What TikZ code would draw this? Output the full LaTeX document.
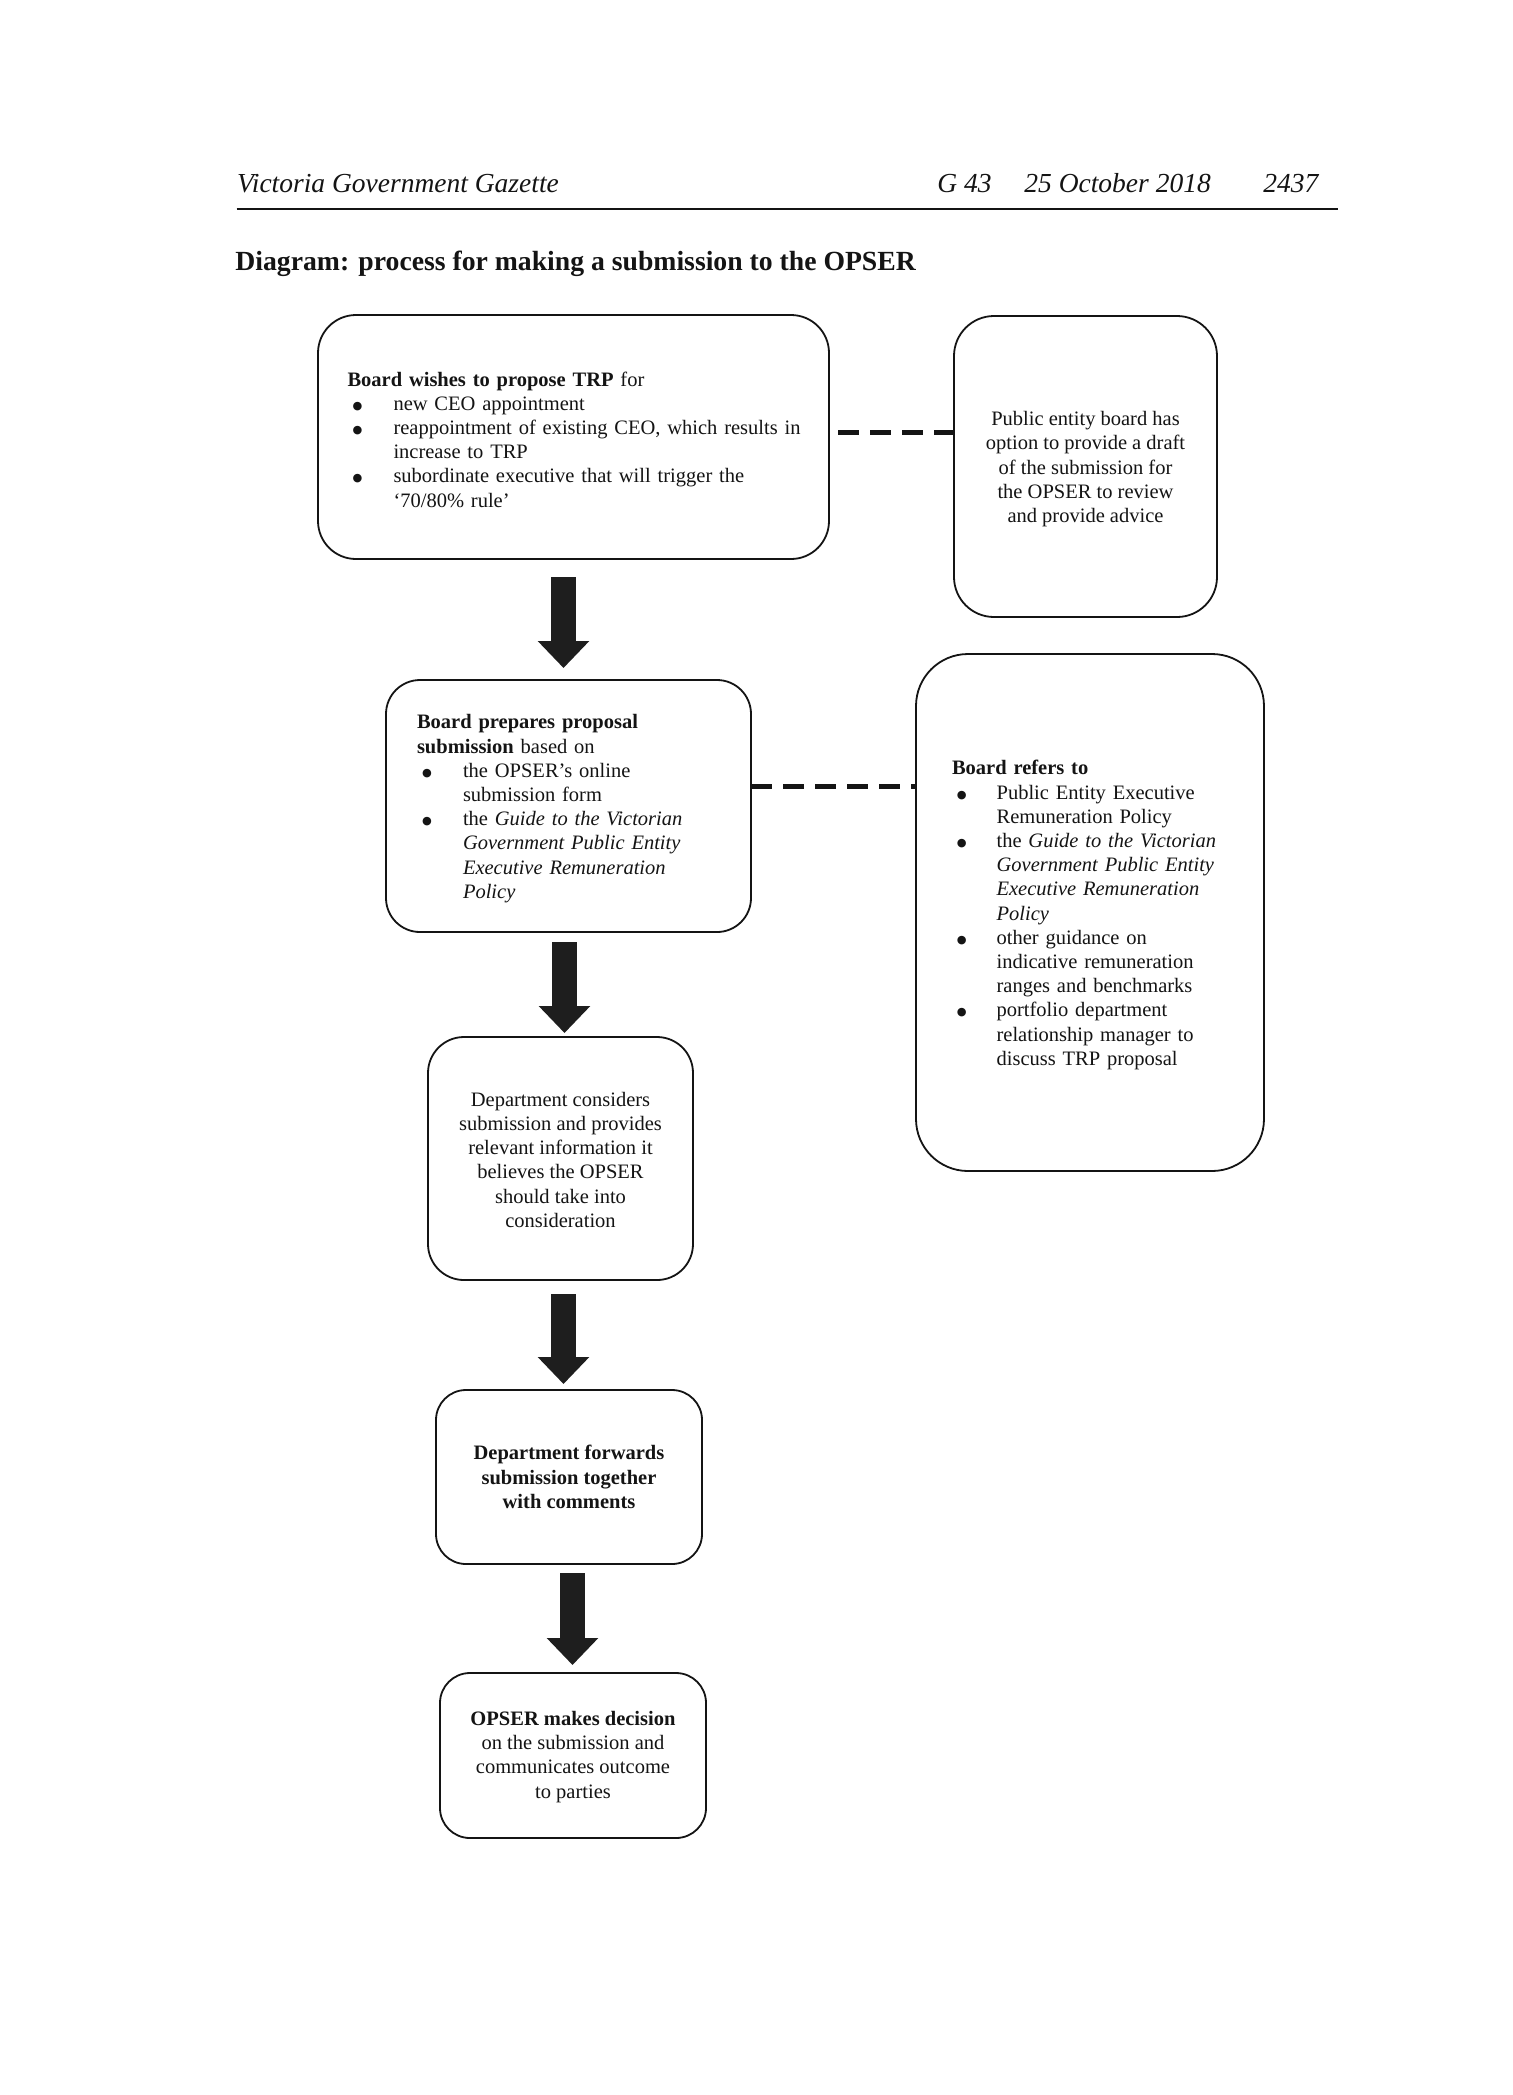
\documentclass[tikz,border=0pt]{standalone}
\usepackage{fontspec}
\setmainfont{Liberation Serif}
\newfontfamily\symfont{DejaVu Sans}
\usetikzlibrary{arrows.meta,calc}
\definecolor{ink}{RGB}{20,20,20}
\definecolor{arrowc}{RGB}{30,30,30}
\newcommand{\bodyfont}{\fontsize{10.25pt}{12.1pt}\selectfont}
\newcommand{\bdot}{\raisebox{0.5pt}{\symfont\fontsize{5.6pt}{6pt}\selectfont ●}}
\newcommand{\bl}{\makebox[23pt][l]{\hspace{2.6pt}\bdot}}
\newcommand{\ind}{\hspace*{23pt}}
\newcommand{\blb}{\makebox[22.3pt][l]{\hspace{2.4pt}\bdot}}
\newcommand{\indb}{\hspace*{22.3pt}}
\newcommand{\tstrut}{\rule{0pt}{9.7pt}}
\newcommand{\sstrut}{\rule{0pt}{8.4pt}}
\begin{document}
\begin{tikzpicture}[x=0.5pt,y=-0.5pt,
  flowbox/.style={draw=ink, line width=0.9pt, rectangle, font=\bodyfont, text=ink, inner ysep=0pt, outer sep=0pt},
  dashconn/.style={draw=ink, line width=2.5pt, dash pattern=on 10.25pt off 5.75pt},
  blockarrow/.style={draw=arrowc, line width=12.5pt, -{Triangle[width=25pt,length=13.5pt]}},
  hdr/.style={anchor=base west, inner sep=0pt, text=ink, font=\fontsize{13.75pt}{16pt}\selectfont\itshape}]
\useasboundingbox (0,0) rectangle (1512,2095);
\fill[white] (0,0) rectangle (1512,2095);

% header
\node[hdr] (hl) at (236.7,192.7) {Victoria Government Gazette};
\node[hdr] (hg) at (937,192.7) {G 43};
\node[hdr] (hd) at (1024,192.7) {25 October 2018};
\node[hdr] (hp) at (1263,192.7) {2437};
\draw[ink, line width=0.65pt] (236.7,209) -- (1338,209);
\node[anchor=base west, inner sep=0pt, text=ink, font=\fontsize{13.85pt}{16pt}\selectfont\bfseries] (title) at (235,270.7) {Diagram: process for making a submission to the OPSER};

% boxes
\node[flowbox, rounded corners=19pt, minimum width=255.5pt, minimum height=122pt, inner xsep=14.75pt, text width=226pt, align=left] (b1) at (573.5,437)
{\tstrut\textbf{Board wishes to propose TRP} for\\
\bl new CEO appointment\\
\bl\mbox{reappointment of existing CEO, which results in}\\
\ind increase to TRP\\
\bl\mbox{subordinate executive that will trigger the}\\
\ind ‘70/80\% rule’};

\node[flowbox, rounded corners=20pt, minimum width=131.5pt, minimum height=150.5pt, align=center] (b2) at (1085.5,466.5)
{\tstrut Public entity board has\\option to provide a draft\\of the submission for\\the OPSER to review\\and provide advice};

\node[flowbox, rounded corners=17pt, minimum width=182.5pt, minimum height=126pt, inner xsep=15.5pt, text width=151.5pt, align=left] (b3) at (568.5,806)
{\tstrut\textbf{Board prepares proposal}\\
\textbf{submission} based on\\
\bl the OPSER’s online\\
\ind submission form\\
\bl\mbox{the \textit{Guide to the Victorian}}\\
\ind\textit{Government Public Entity}\\
\ind\textit{Executive Remuneration}\\
\ind\textit{Policy}};

\node[flowbox, rounded corners=26pt, minimum width=174pt, minimum height=258.5pt, inner xsep=18pt, text width=138pt, align=left] (b5) at (1090,912.5)
{\tstrut\textbf{Board refers to}\\
\blb Public Entity Executive\\
\indb Remuneration Policy\\
\blb\mbox{the \textit{Guide to the Victorian}}\\
\indb\mbox{\textit{Government Public Entity}}\\
\indb\textit{Executive Remuneration}\\
\indb\textit{Policy}\\
\blb other guidance on\\
\indb\mbox{indicative remuneration}\\
\indb\mbox{ranges and benchmarks}\\
\blb portfolio department\\
\indb\mbox{relationship manager to}\\
\indb discuss TRP proposal};

\node[flowbox, rounded corners=18pt, minimum width=132.5pt, minimum height=121.5pt, align=center] (b4) at (560.5,1158.5)
{\sstrut Department considers\\submission and provides\\relevant information it\\believes the OPSER\\should take into\\consideration};

\node[flowbox, rounded corners=15pt, minimum width=133pt, minimum height=87pt, align=center, font=\bodyfont\bfseries] (b6) at (569,1477)
{Department forwards\\submission together\\with comments};

\node[flowbox, rounded corners=15pt, minimum width=133pt, minimum height=82.5pt, align=center] (b7) at (573,1755.5)
{\sstrut\textbf{OPSER makes decision}\\on the submission and\\communicates outcome\\to parties};

% dashed links
\coordinate (d1) at ($(b1.east)+(9,-4.5)$);
\draw[dashconn] (d1) -- (d1 -| b2.west);
\coordinate (d2) at ($(b3.east)+(0,-20)$);
\draw[dashconn] (d2) -- (d2 -| b5.west);

% block arrows
\draw[blockarrow] ($(b1.south)+(-10,18)$) -- ($(b3.north)+(-5,-12)$);
\draw[blockarrow] ($(b3.south)+(-4,10)$) -- ($(b4.north)+(4,-4)$);
\draw[blockarrow] ($(b4.south)+(3,14)$) -- ($(b6.north)+(-5.5,-6)$);
\draw[blockarrow] ($(b6.south)+(3.5,9)$) -- ($(b7.north)+(-0.5,-8)$);
\end{tikzpicture}
\end{document}
